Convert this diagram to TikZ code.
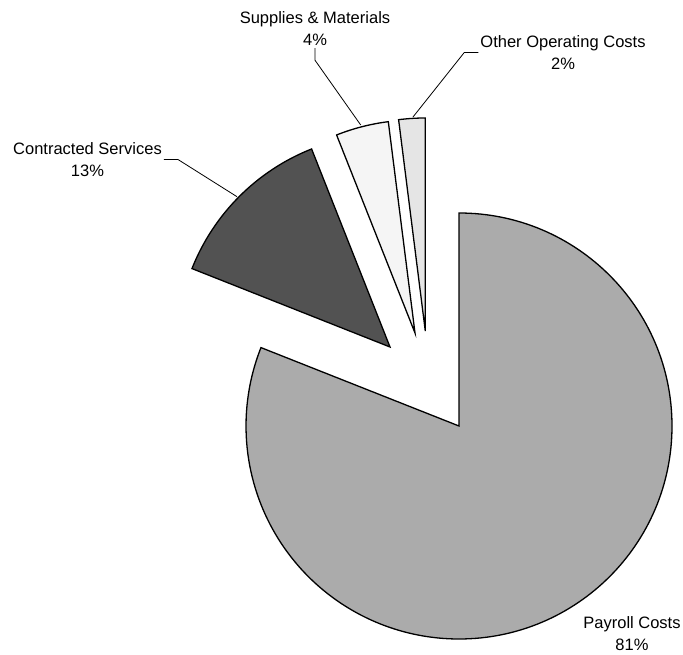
\documentclass[tikz,border=0pt]{standalone}
\usepackage{fontspec}
\setmainfont{Liberation Sans}
\begin{document}
\begin{tikzpicture}[x=1pt,y=1pt,
  slice/.style={draw=black, line width=1.3pt, line join=miter},
  lbl/.style={align=center, inner sep=2pt, font=\fontsize{16.5}{22}\selectfont},
  leader/.style={draw=black, line width=0.8pt}]
\useasboundingbox (0,0) rectangle (683,654);
% pie geometry
\coordinate (cP) at (459,228);
\coordinate (cC) at (390,307);
\coordinate (cS) at (415,321);
\coordinate (cO) at (425.3,323);
% slices
\path[slice, fill=black!33] (cP) -- ++(90:213) arc[start angle=90, end angle=-201.6, radius=213] -- cycle;
\path[slice, fill=black!68] (cC) -- ++(158.4:213) arc[start angle=158.4, end angle=111.6, radius=213] -- cycle;
\path[slice, fill=black!4] (cS) -- ++(111.6:213) arc[start angle=111.6, end angle=97.2, radius=213] -- cycle;
\path[slice, fill=black!10] (cO) -- ++(97.2:213) arc[start angle=97.2, end angle=90, radius=213] -- cycle;
% labels
\node[lbl] (ls) at (315,625) {Supplies \& Materials\\4\%};
\node[lbl] (lo) at (563,601.5) {Other Operating Costs\\2\%};
\node[lbl] (lc) at (87.5,494.5) {Contracted Services\\13\%};
\node[lbl] (lp) at (632,20) {Payroll Costs\\81\%};
% leader ends on slices
\coordinate (eS) at (360.7,529);
\coordinate (eO) at (413,537);
\coordinate (eC) at (237,457.3);
\draw[leader] (ls.south) -- ++(0,-12) -- (eS);
\draw[leader] (lo.west) -- ++(-14,0) -- (eO);
\draw[leader] (lc.east) -- ++(14,0) -- (eC);
\end{tikzpicture}
\end{document}
